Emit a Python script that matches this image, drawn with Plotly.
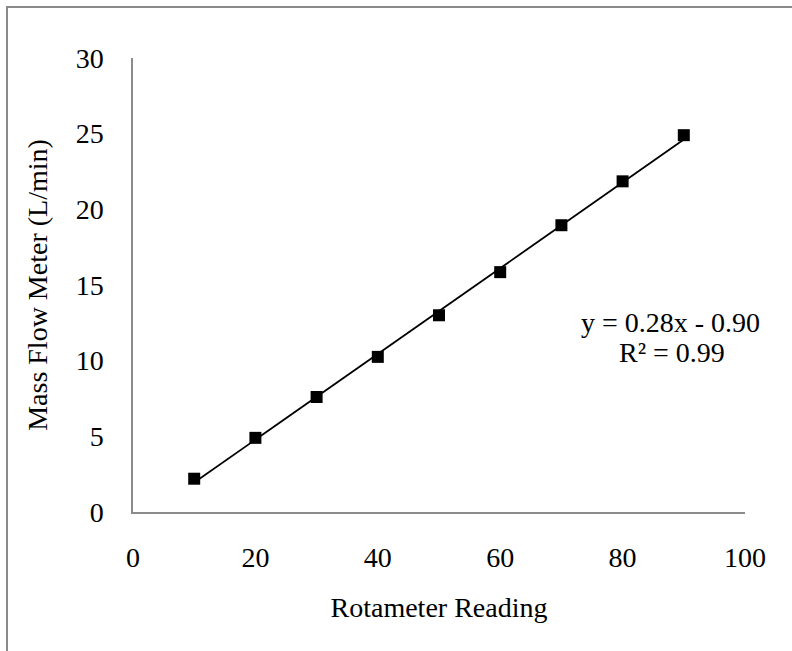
import numpy as np
import plotly.graph_objects as go

# Data
rotameter = [10, 20, 30, 40, 50, 60, 70, 80, 90]
mass_flow = [2.2, 4.9, 7.6, 10.25, 13.0, 15.85, 18.95, 21.85, 24.9]
equation_text = "y = 0.28x - 0.90"
r2_text = "R² = 0.99"
x_title = "Rotameter Reading"
y_title = "Mass Flow Meter (L/min)"

FONT = "Liberation Serif, Times New Roman, serif"
FS = 28

# Linear trendline (least squares) over the data span
slope, intercept = np.polyfit(rotameter, mass_flow, 1)
x_fit = np.array([min(rotameter), max(rotameter)])
y_fit = slope * x_fit + intercept

fig = go.Figure()
fig.add_trace(go.Scatter(
    x=x_fit, y=y_fit, mode="lines",
    line=dict(color="black", width=1.8),
    showlegend=False, hoverinfo="skip",
))
fig.add_trace(go.Scatter(
    x=rotameter, y=mass_flow, mode="markers",
    marker=dict(symbol="square", size=12, color="black"),
    showlegend=False,
))

fig.add_annotation(x=87.9, y=12.55, xref="x", yref="y", text=equation_text,
                   showarrow=False, font=dict(family=FONT, size=FS, color="black"),
                   xanchor="center", yanchor="middle")
fig.add_annotation(x=88.0, y=10.56, xref="x", yref="y", text=r2_text,
                   showarrow=False, font=dict(family=FONT, size=FS, color="black"),
                   xanchor="center", yanchor="middle")

# Outer chart border (extends past right / bottom edges as in the reference)
fig.add_shape(type="rect", xref="paper", yref="paper",
              x0=-0.2059, x1=1.09, y0=-0.33, y1=1.1124,
              line=dict(color="#8a8a8a", width=2), fillcolor="rgba(0,0,0,0)",
              layer="below")

fig.update_layout(
    width=792, height=651,
    margin=dict(l=133, r=47, t=58, b=139, autoexpand=False),
    paper_bgcolor="white", plot_bgcolor="white",
    font=dict(family=FONT, size=FS, color="black"),
    xaxis=dict(
        range=[0, 100], dtick=20, tick0=0,
        showgrid=False, zeroline=False,
        showline=True, linecolor="#8c8c8c", linewidth=1.5,
        ticks="", ticklabelstandoff=20,
        tickfont=dict(family=FONT, size=FS, color="black"),
        title=dict(text=x_title, font=dict(family=FONT, size=FS, color="black"), standoff=25),
        automargin=False,
    ),
    yaxis=dict(
        range=[0, 30], dtick=5, tick0=0,
        showgrid=False, zeroline=False,
        showline=True, linecolor="#8c8c8c", linewidth=1.5,
        ticks="", ticklabelstandoff=22,
        tickfont=dict(family=FONT, size=FS, color="black"),
        title=dict(text=y_title, font=dict(family=FONT, size=FS, color="black"), standoff=20),
        automargin=False,
    ),
)

fig.write_html("out.html")
